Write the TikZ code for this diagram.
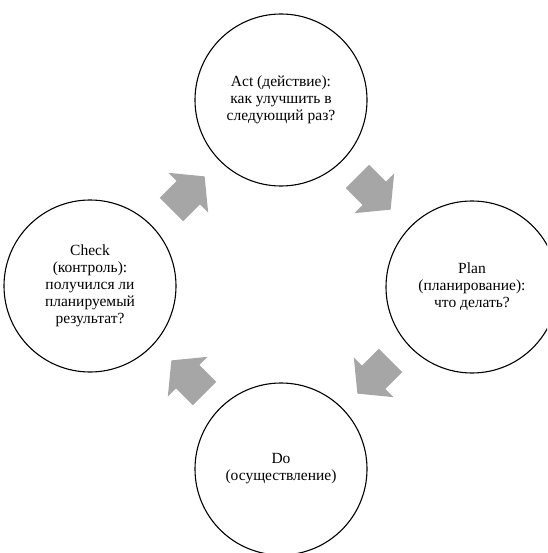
\documentclass[tikz,border=0pt]{standalone}
\usepackage{fontspec}
\setmainfont{Liberation Serif}
\begin{document}
\begin{tikzpicture}[x=1pt,y=-1pt,
  stage/.style={draw=black, line width=1.1pt, circle, minimum size=172pt, inner sep=0pt,
    align=center, font=\fontsize{15.5}{17}\selectfont},
  blockarrow/.style={fill=arrowgray, draw=none}]
\definecolor{arrowgray}{HTML}{A6A6A6}
\useasboundingbox (0,0) rectangle (547,553);
\clip (0,0) rectangle (547,553);
\fill[white] (0,0) rectangle (547,553);
\node[stage] (act) at (281,100) {Act (действие):\\как улучшить в\\следующий раз?};
\node[stage] (plan) at (472,287) {Plan\\(планирование):\\что делать?};
\node[stage] (do) at (281,469) {Do\\(осуществление)};
\node[stage] (check) at (90,286) {Check\\(контроль):\\получился ли\\планируемый\\результат?};
\foreach \cx/\cy/\ang in {188/193/45, 374/193/-45, 374/377/-135, 188/377/135}{
  \fill[blockarrow, shift={(\cx,\cy)}, rotate=\ang]
    (23.5,0) -- (0.5,28) -- (0.5,16.5) -- (-23.5,16.5) -- (-23.5,-16.5) -- (0.5,-16.5) -- (0.5,-28) -- cycle;
}
\end{tikzpicture}
\end{document}
